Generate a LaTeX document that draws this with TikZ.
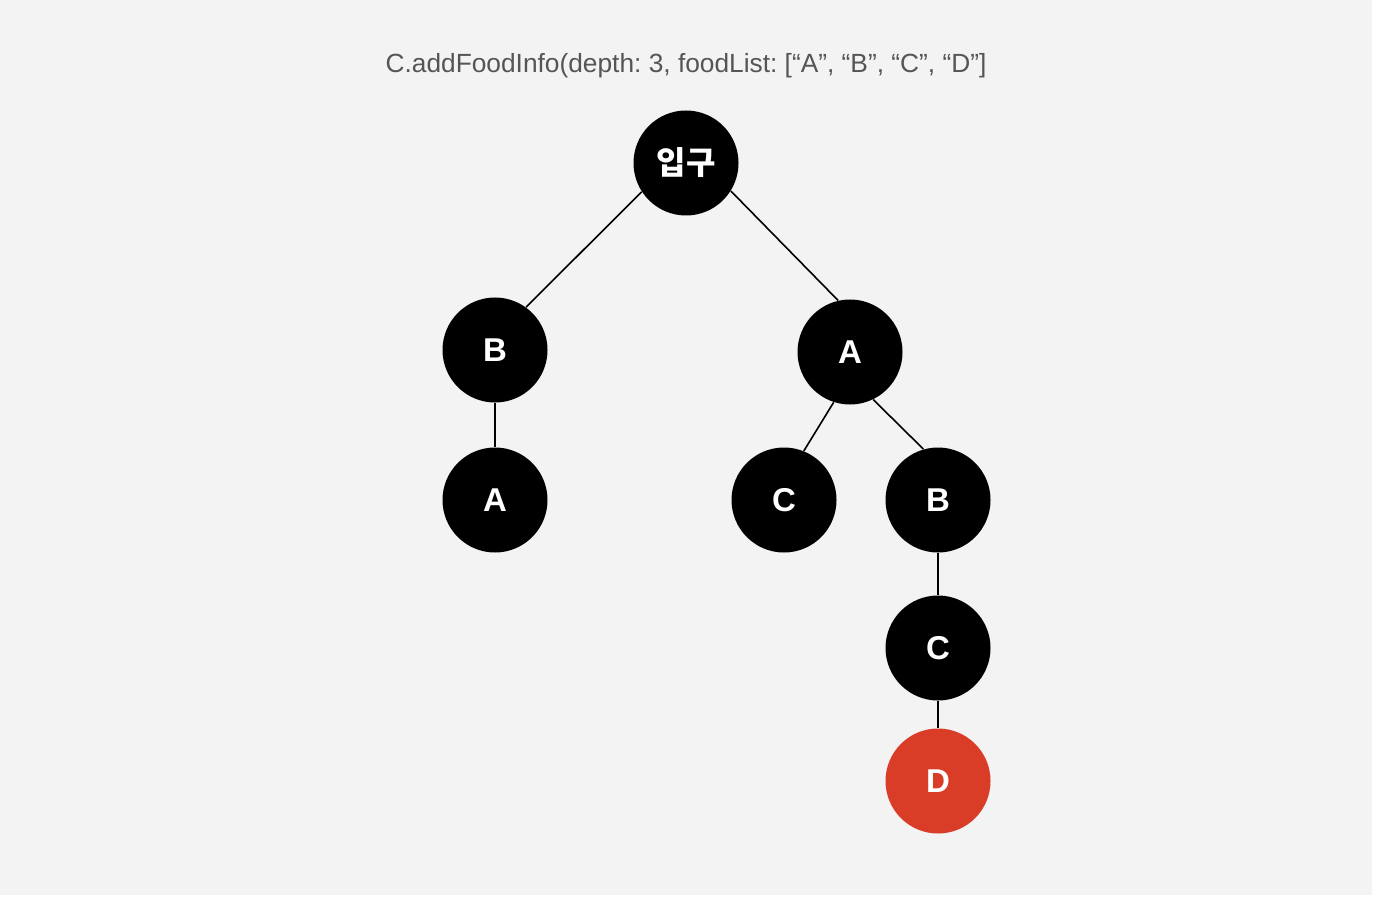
\documentclass[tikz,border=0pt]{standalone}
\usepackage{fontspec}
\setmainfont{Liberation Sans}
\newfontfamily\krfont{Noto Sans CJK KR}
\usepackage{xcolor}
\definecolor{bggray}{HTML}{F3F3F3}
\definecolor{titlegray}{HTML}{555555}
\definecolor{hitred}{HTML}{D93C27}
\frenchspacing

\begin{document}
\begin{tikzpicture}[
    x=0.5pt,
    y=-0.5pt,
    foodnode/.style={circle,fill=black,minimum size=52.5pt,inner sep=0pt,
        text=white,font=\fontsize{16.5}{18}\selectfont\bfseries},
    hitnode/.style={foodnode,fill=hitred},
    edge/.style={draw=black,line width=0.8pt}
]

% Background
\fill[white] (0,0) rectangle (1374,898);
\fill[bggray] (0,0) rectangle (1372,895);
\useasboundingbox (0,0) rectangle (1374,898);

% Title
\node[titlegray,font=\fontsize{13.15}{15}\selectfont] (title)
    at (686,66) {C.addFoodInfo(depth: 3, foodList: [“A”, “B”, “C”, “D”]};

% Nodes
\node[foodnode,font=\krfont\fontsize{16}{18}\selectfont\bfseries] (root)
    at (686,163) {입구};
\node[foodnode] (lb) at (495,350) {B};
\node[foodnode] (ra) at (850,352) {A};
\node[foodnode] (lba) at (495,500) {A};
\node[foodnode] (rac) at (784,500) {C};
\node[foodnode] (rab) at (938,500) {B};
\node[foodnode] (rabc) at (938,648) {C};
\node[hitnode] (rabcd) at (938,781) {D};

% Edges
\draw[edge] (root.213) -- (lb.54);
\draw[edge] (root.328) -- (ra.103);
\draw[edge] (lb) -- (lba);
\draw[edge] (ra.252) -- (rac.68);
\draw[edge] (ra.296) -- (rab.106);
\draw[edge] (rab) -- (rabc);
\draw[edge] (rabc) -- (rabcd);

\end{tikzpicture}
\end{document}
